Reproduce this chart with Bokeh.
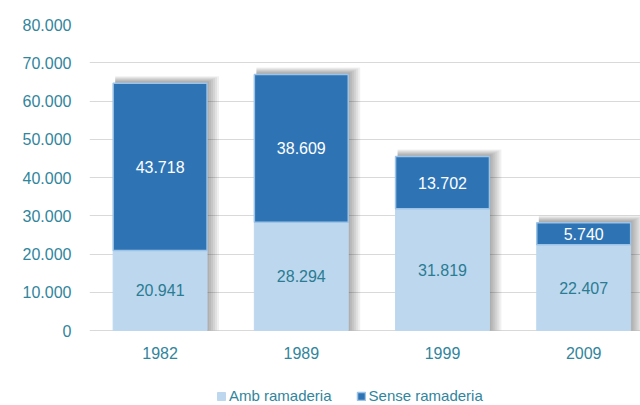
from bokeh.plotting import figure
from bokeh.models import (Range1d, FixedTicker, Legend, LegendItem,
                          ColumnDataSource, LabelSet)
from bokeh.core.properties import value
from bokeh.embed import file_html
from bokeh.resources import INLINE

# ---- data ----
years = ["1982", "1989", "1999", "2009"]
amb_ramaderia = [20941, 28294, 31819, 22407]
sense_ramaderia = [43718, 38609, 13702, 5740]
y_ticks = [0, 10000, 20000, 30000, 40000, 50000, 60000, 70000, 80000]
y_tick_labels = ["0", "10.000", "20.000", "30.000", "40.000",
                 "50.000", "60.000", "70.000", "80.000"]
series_names = ["Amb ramaderia", "Sense ramaderia"]

# ---- styles ----
LIGHT = "#BDD7EE"
DARK = "#2E74B5"
DARK_EDGE = "#9DC3E6"
TEAL = "#31859C"
LABEL_TEAL = "#2A7C92"
FONT = "Liberation Sans"
FS = "16px"

W, H = 640, 405
BL, BR, BT, BB = 89, 0, 24, 0
frame_w = W - BL - BR
frame_h = H - BT - BB
zero_px = 330 - BT           # pixel of value 0 from frame top
y_end = 80000
px_y = y_end / zero_px       # data units per pixel
y_start = -(frame_h - zero_px) * px_y
x_end = frame_w / 141.2
px_x = x_end / frame_w
bar_w = 0.665

xs = [i + 0.5 for i in range(len(years))]
tops = [a + s for a, s in zip(amb_ramaderia, sense_ramaderia)]

def fmt(v):
    return f"{v:,}".replace(",", ".")

p = figure(width=W, height=H, x_range=Range1d(0, x_end),
           y_range=Range1d(y_start, y_end),
           output_backend="svg", toolbar_location=None,
           min_border_left=BL, min_border_right=BR, min_border_top=BT,
           min_border_bottom=BB)
p.outline_line_color = None
p.background_fill_color = "white"
p.border_fill_color = "white"

# grid
p.xgrid.visible = False
p.ygrid.ticker = FixedTicker(ticks=y_ticks)
p.ygrid.grid_line_color = "#D9D9D9"
p.ygrid.grid_line_width = 1

# soft drop shadows (to the right and above)
for k in range(6):
    ssrc = ColumnDataSource(dict(x=[v + (2 + k) * px_x for v in xs],
                                 top=[t + (2 + k) * px_y for t in tops]))
    p.vbar(x="x", top="top", bottom=0, width=bar_w + 2 * k * px_x, source=ssrc,
           fill_color="black", fill_alpha=0.06, line_color=None)

src = ColumnDataSource(dict(
    x=xs, amb=amb_ramaderia, tot=tops,
    amb_mid=[a / 2 for a in amb_ramaderia],
    sense_mid=[a + s / 2 for a, s in zip(amb_ramaderia, sense_ramaderia)],
    amb_lab=[fmt(v) for v in amb_ramaderia],
    sense_lab=[fmt(v) for v in sense_ramaderia],
))

r_light = p.vbar(x="x", top="amb", bottom=0, width=bar_w, source=src,
                 fill_color=LIGHT, line_color=LIGHT, line_width=1)
r_dark = p.vbar(x="x", top="tot", bottom="amb", width=bar_w, source=src,
                fill_color=DARK, line_color=DARK_EDGE, line_width=1.5)

p.add_layout(LabelSet(x="x", y="amb_mid", text="amb_lab", source=src,
                      text_align="center", text_baseline="middle",
                      text_font=value(FONT), text_font_size=FS,
                      text_color=LABEL_TEAL))
p.add_layout(LabelSet(x="x", y="sense_mid", text="sense_lab", source=src,
                      text_align="center", text_baseline="middle",
                      text_font=value(FONT), text_font_size=FS,
                      text_color="white"))

# axes
p.yaxis.ticker = FixedTicker(ticks=y_ticks)
p.yaxis.major_label_overrides = {t: l for t, l in zip(y_ticks, y_tick_labels)}
p.xaxis.ticker = FixedTicker(ticks=xs)
p.xaxis.major_label_overrides = {x: y for x, y in zip(xs, years)}
p.xaxis.fixed_location = 0
for ax in (p.xaxis, p.yaxis):
    ax.axis_line_color = None
    ax.major_tick_line_color = None
    ax.minor_tick_line_color = None
    ax.major_tick_out = 0
    ax.major_tick_in = 0
    ax.minor_tick_out = 0
    ax.major_label_text_color = TEAL
    ax.major_label_text_font = FONT
    ax.major_label_text_font_size = FS
p.yaxis.major_label_standoff = 18
p.xaxis.major_label_standoff = 16

legend = Legend(items=[LegendItem(label=series_names[0], renderers=[r_light]),
                       LegendItem(label=series_names[1], renderers=[r_dark])],
                orientation="horizontal", location=(216 - BL, 1),
                label_text_font=FONT, label_text_font_size="15px",
                label_text_color=TEAL, glyph_width=10, glyph_height=10,
                label_standoff=3, spacing=24, padding=0, margin=0,
                background_fill_alpha=0, border_line_color=None)
p.add_layout(legend)

open("out.html", "w").write(file_html(p, INLINE))
